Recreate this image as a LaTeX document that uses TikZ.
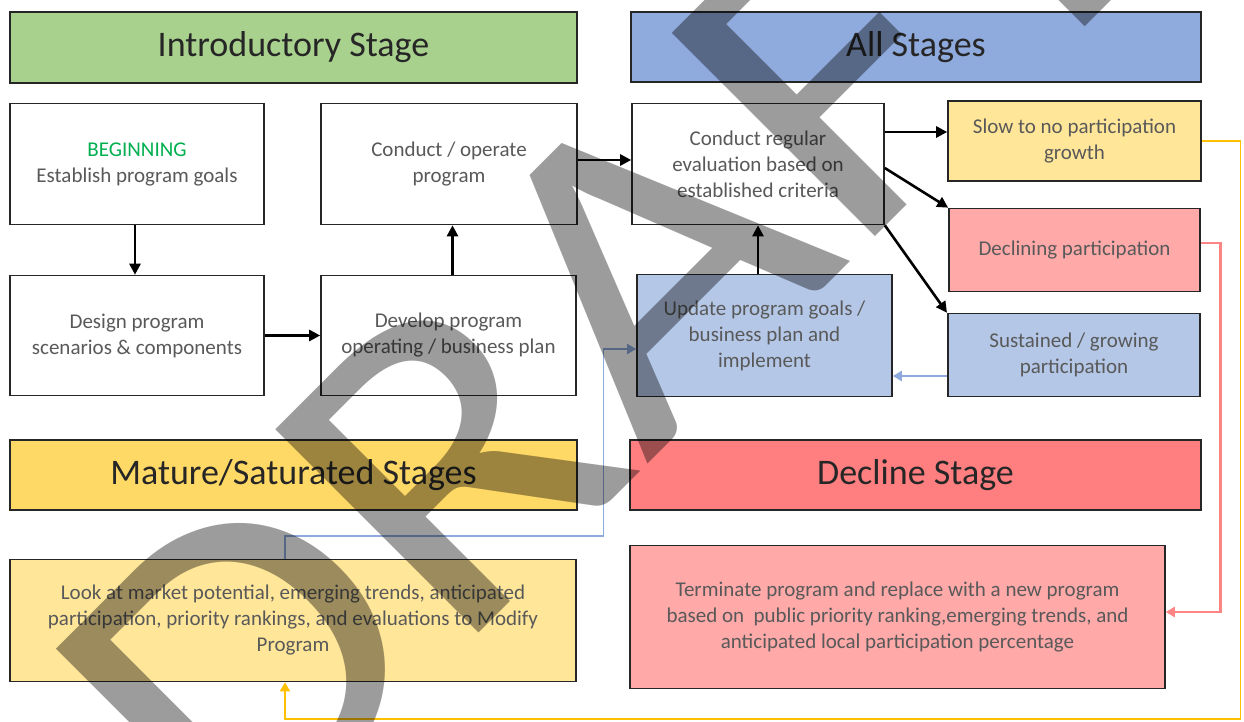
\documentclass[tikz,border=0pt]{standalone}
\usepackage{fontspec}
\setmainfont{Carlito}
\usetikzlibrary{arrows.meta,calc}

\definecolor{introgreen}{HTML}{A9D18E}
\definecolor{allblue}{HTML}{8FAADC}
\definecolor{paleblue}{HTML}{B4C7E7}
\definecolor{gold}{HTML}{FFD966}
\definecolor{paleyellow}{HTML}{FFE699}
\definecolor{declred}{HTML}{FF7F80}
\definecolor{palered}{HTML}{FFA9A9}
\definecolor{linkyellow}{HTML}{FFC000}
\definecolor{linkred}{HTML}{FF8585}
\definecolor{linkblue}{HTML}{8EA9DB}
\definecolor{bodytext}{HTML}{595959}
\definecolor{headtext}{HTML}{262626}
\definecolor{begingreen}{HTML}{00B050}

\tikzset{
  box/.style={draw=black!85, line width=1.6pt, fill=white, text=bodytext,
    align=center, inner sep=2pt, font=\fontsize{21}{26}\selectfont},
  header/.style={draw=black!85, line width=1.6pt, text=headtext,
    inner sep=0pt, font=\fontsize{36}{40}\selectfont},
  flow/.style={line width=2.6pt, -{Triangle[length=11pt,width=11pt]}},
  link/.style={line width=2.2pt, -{Triangle[length=9pt,width=10pt]}},
  watermark/.style={anchor=base west, inner sep=0pt, outer sep=0pt,
    text=black, text opacity=0.39, font=\fontsize{448}{448}\selectfont}
}

\begin{document}
\begin{tikzpicture}[x=1pt,y=-1pt]
\useasboundingbox (0,0) rectangle (1244,721);
\fill[white] (0,0) rectangle (1244,721);

% stage headers
\node[header, fill=introgreen, minimum width=567pt, minimum height=71pt] (intro) at (293.5,47.5) {Introductory Stage};
\node[header, fill=allblue, minimum width=570pt, minimum height=70pt] (allst) at (916,47) {All Stages};
\node[header, fill=gold, minimum width=567pt, minimum height=70pt] (mature) at (293.5,475) {Mature/Saturated Stages};
\node[header, fill=declred, minimum width=571pt, minimum height=70pt] (declst) at (915.5,475) {Decline Stage};

% process boxes
\node[box, minimum width=254pt, minimum height=121pt] (beg) at (137,164) {\textcolor{begingreen}{BEGINNING}\\Establish program goals};
\node[box, minimum width=256pt, minimum height=121pt] (cop) at (449,164) {Conduct / operate\\program};
\node[box, minimum width=252pt, minimum height=121pt] (eval) at (758,164) {Conduct regular\\evaluation based on\\established criteria};
\node[box, fill=paleyellow, minimum width=253pt, minimum height=80pt] (slow) at (1074.5,141) {Slow to no participation\\growth};
\node[box, fill=palered, minimum width=251pt, minimum height=83pt] (decl) at (1074.5,250) {Declining participation};
\node[box, fill=paleblue, minimum width=252.5pt, minimum height=83pt] (sust) at (1074,355) {Sustained / growing\\participation};
\node[box, minimum width=254pt, minimum height=120pt] (design) at (137,335.5) {Design program\\scenarios \& components};
\node[box, minimum width=255pt, minimum height=120pt] (develop) at (448.5,335.5) {Develop program\\operating / business plan};
\node[box, fill=paleblue, minimum width=255pt, minimum height=122pt] (update) at (764.5,335.5) {Update program goals /\\business plan and\\implement};
\node[box, fill=paleyellow, minimum width=566pt, minimum height=122pt] (look) at (293,620.5) {Look at market potential, emerging trends, anticipated\\participation, priority rankings, and evaluations to Modify\\Program};
\node[box, fill=palered, minimum width=535pt, minimum height=143pt] (term) at (897.5,617) {Terminate program and replace with a new program\\based on\ \ public priority ranking,emerging trends, and\\anticipated local participation percentage};

% main flow
\draw[flow] ([xshift=-2pt]beg.south) -- ([xshift=-2pt]design.north);
\draw[flow] (design.east) -- (develop.west);
\draw[flow] ([xshift=4pt]develop.north) -- ([xshift=4pt]develop.north |- cop.south);
\draw[flow] ([yshift=4pt]cop.east) -- ([yshift=4pt]eval.west);
\draw[flow] (eval.south |- update.north) -- (eval.south);
\draw[flow] ([yshift=32pt]eval.east) -- ([yshift=32pt]eval.east -| slow.west);
\draw[flow] ([yshift=-4pt]eval.east) -- (decl.north west);
\draw[flow] (eval.south east) -- (sust.north west);

% feedback links
\coordinate (blueturn) at (603.5,536);
\coordinate (yellowturn) at (1240.5,719);
\coordinate (redturn) at (1220.5,612);
\draw[link, linkblue] ([yshift=-21pt]sust.west) -- ([yshift=-21pt]sust.west -| update.east);
\draw[link, linkblue, line width=1.8pt] ([xshift=-8pt]look.north) |- (blueturn) |- ([yshift=-13.5pt]update.west);
\draw[link, linkyellow, line width=1.8pt] (slow.east) -| (yellowturn) -| ([xshift=-8pt]look.south);
\draw[link, linkred, line width=2.4pt] ([yshift=7pt]decl.east) -| (redturn) -- (redturn -| term.east);

% watermark
\begin{scope}
\clip (0,0) rectangle (1244,721);
\node[watermark, rotate=45, xscale=1.12] (wm) at (235.5,876.7) {DRAFT};
\end{scope}
\end{tikzpicture}
\end{document}
